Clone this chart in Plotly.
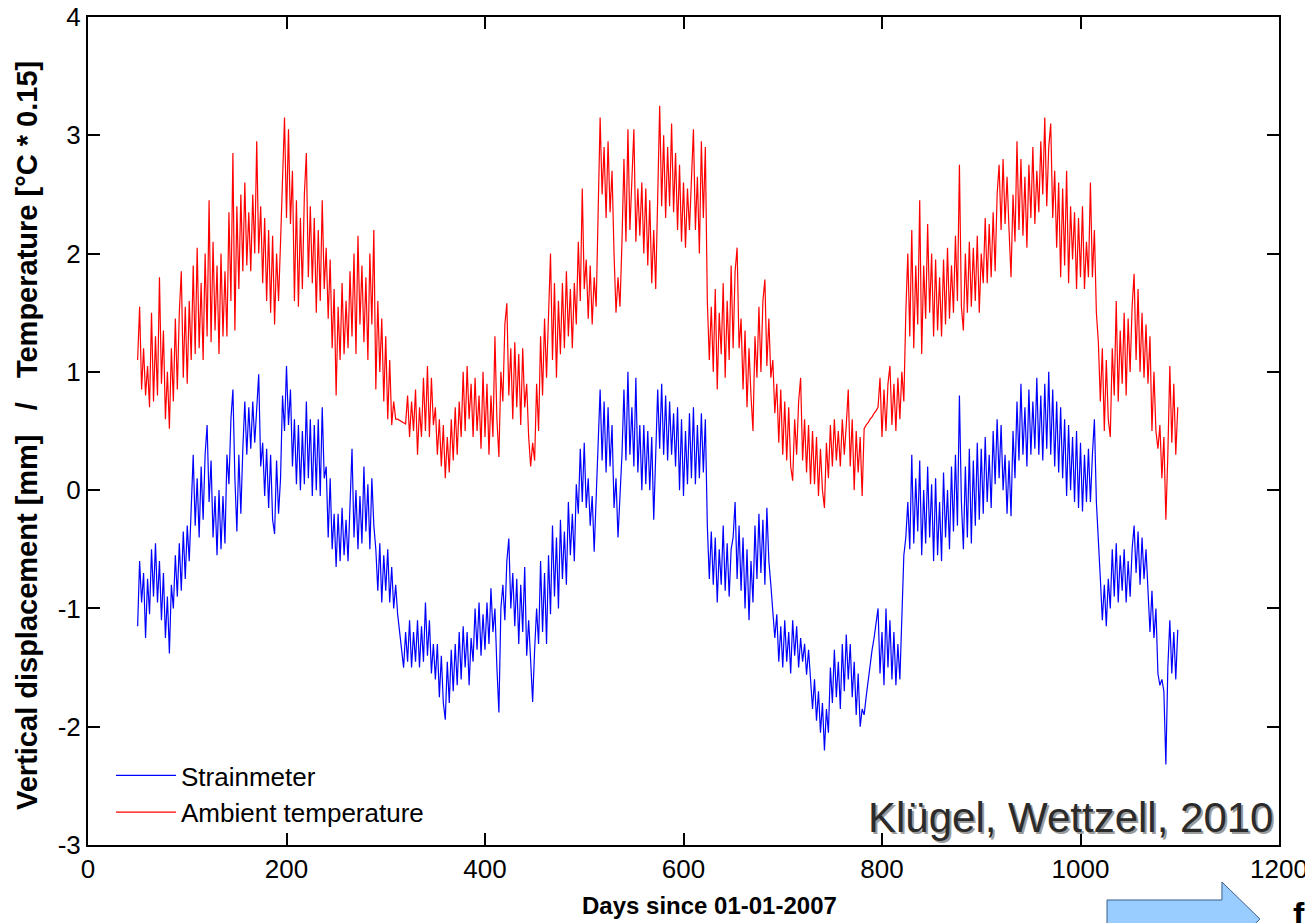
import plotly.graph_objects as go

# Sampling: every 2 days from day 50 to day 1098
days = list(range(50, 1099, 2))

temperature = [
    # 50-88
    1.1, 1.55, 0.85, 1.2, 0.8, 1.05, 0.7, 1.5, 0.75, 1.3, 0.8, 1.8, 0.9, 1.35, 0.6, 1.0, 0.52, 1.2, 0.75, 1.45,
    # 90-128
    0.85, 1.5, 1.85, 0.95, 1.55, 0.9, 1.6, 1.1, 1.9, 1.15, 2.05, 1.2, 1.75, 1.1, 2.0, 1.3, 2.45, 1.25, 2.1, 1.35,
    # 130-168
    1.9, 1.15, 2.0, 1.3, 1.85, 1.3, 2.35, 1.6, 2.85, 1.35, 2.4, 1.7, 2.5, 1.85, 2.6, 1.9, 2.35, 1.85, 2.5, 2.0,
    # 170-208
    2.95, 2.0, 2.4, 1.75, 2.3, 1.6, 2.2, 1.5, 2.15, 1.4, 2.0, 1.6, 2.1, 2.6, 3.15, 2.3, 3.05, 2.25, 2.7, 1.6,
    # 210-248
    2.45, 1.55, 2.3, 1.7, 2.5, 2.85, 1.8, 2.4, 1.75, 2.3, 1.5, 2.2, 1.6, 2.45, 1.7, 2.05, 1.45, 1.95, 1.2, 1.7,
    # 250-288
    0.8, 1.55, 1.1, 1.75, 1.15, 1.6, 1.2, 1.85, 1.3, 2.0, 1.15, 2.15, 1.4, 1.9, 1.25, 1.8, 1.1, 2.0, 1.4, 2.2,
    # 290-328
    0.85, 1.6, 1.0, 1.45, 0.75, 1.3, 0.6, 1.1, 0.55, 0.75, 0.6, 0.6, 0.59, 0.58, 0.57, 0.56, 0.8, 0.45, 0.75, 0.5,
    # 330-368
    0.85, 0.3, 0.7, 0.45, 0.95, 0.5, 1.05, 0.45, 0.95, 0.55, 0.7, 0.3, 0.6, 0.2, 0.55, 0.1, 0.45, 0.15, 0.6, 0.25,
    # 370-408
    0.7, 0.3, 0.75, 0.45, 1.0, 0.5, 1.05, 0.6, 0.9, 0.45, 0.95, 0.5, 0.8, 0.35, 1.0, 0.45, 0.9, 0.3, 0.8, 0.45,
    # 410-448
    1.3, 0.6, 0.28, 1.0, 0.75, 1.4, 1.58, 0.8, 1.2, 0.6, 1.25, 0.7, 1.15, 0.55, 1.2, 0.7, 0.9, 0.45, 0.2, 0.4,
    # 450-488
    0.25, 0.9, 0.5, 1.3, 0.8, 1.45, 0.95, 1.5, 2.0, 1.1, 1.75, 0.95, 1.6, 1.15, 1.75, 1.2, 1.85, 1.3, 1.7, 1.2,
    # 490-528
    1.75, 1.4, 2.1, 1.6, 2.55, 1.7, 1.95, 1.45, 1.9, 1.4, 1.8, 1.55, 2.35, 3.15, 2.5, 2.9, 2.3, 2.95, 2.35, 2.7,
    # 530-568
    2.0, 1.5, 1.8, 1.55, 2.1, 2.8, 2.1, 3.05, 2.2, 2.6, 3.05, 2.1, 2.55, 2.15, 2.6, 2.0, 2.55, 1.9, 2.45, 1.75,
    # 570-608
    2.2, 1.7, 2.5, 3.25, 2.4, 3.0, 2.3, 2.9, 2.4, 3.1, 2.35, 2.85, 2.2, 2.75, 2.1, 2.6, 2.05, 2.55, 2.2, 2.7,
    # 610-648
    3.05, 2.2, 2.65, 2.0, 2.95, 2.3, 2.9, 1.6, 1.1, 1.55, 1.0, 1.7, 0.85, 1.5, 1.15, 1.75, 0.95, 1.6, 1.1, 1.9,
    # 650-688
    1.2, 1.85, 2.05, 1.2, 1.45, 0.85, 1.35, 0.7, 1.2, 0.8, 0.5, 1.3, 0.95, 1.55, 1.0, 1.6, 1.78, 1.05, 1.45, 0.95,
    # 690-728
    1.1, 0.65, 0.9, 0.4, 0.85, 0.3, 0.75, 0.25, 0.7, 0.2, 0.08, 0.6, 0.3, 0.75, 0.95, 0.25, 0.6, 0.15, 0.55, 0.05,
    # 730-768
    0.5, 0.05, 0.45, -0.05, 0.35, 0.0, -0.15, 0.4, 0.1, 0.55, 0.2, 0.6, 0.25, 0.5, 0.2, 0.6, 0.3, 0.55, 0.85, 0.2,
    # 770-808
    0.6, 0.0, 0.5, 0.15, 0.45, -0.05, 0.52, 0.55, 0.57, 0.6, 0.62, 0.65, 0.67, 0.7, 0.95, 0.45, 0.85, 0.5, 0.9, 1.05,
    # 810-848
    0.55, 0.9, 0.5, 0.95, 0.6, 1.0, 0.75, 1.5, 2.0, 1.3, 2.2, 1.2, 1.9, 1.4, 2.45, 1.15, 1.9, 1.45, 2.25, 1.5,
    # 850-888
    2.0, 1.3, 1.95, 1.35, 1.8, 1.3, 1.95, 1.4, 2.05, 1.45, 1.9, 1.5, 2.15, 1.6, 2.75, 1.55, 1.35, 2.0, 1.5, 2.1,
    # 890-928
    1.55, 2.05, 1.6, 2.15, 1.5, 2.0, 1.75, 2.3, 1.75, 2.25, 1.8, 2.35, 1.85, 2.5, 2.75, 2.2, 2.8, 2.25, 2.65, 2.2,
    # 930-968
    1.8, 2.5, 2.1, 2.95, 2.2, 2.8, 2.15, 2.65, 2.05, 2.75, 2.3, 2.9, 2.25, 2.7, 2.35, 2.95, 2.5, 3.15, 2.4, 2.9,
    # 970-1008
    3.1, 2.3, 2.7, 2.05, 2.6, 1.8, 2.55, 1.9, 2.7, 1.75, 2.4, 1.95, 2.35, 1.7, 2.3, 1.8, 2.4, 1.7, 2.1, 1.8,
    # 1010-1048
    2.6, 1.8, 2.2, 1.5, 1.25, 0.75, 1.2, 0.5, 1.1, 0.6, 0.45, 1.2, 0.8, 1.6, 0.75, 1.35, 0.9, 1.5, 0.8, 1.45,
    # 1050-1088
    1.0, 1.55, 1.83, 1.1, 1.7, 1.0, 1.5, 0.95, 1.4, 0.9, 1.3, 0.5, 1.0, 0.5, 0.35, 0.55, 0.1, 0.45, -0.25, 0.3,
    # 1090-1098
    1.05, 0.4, 0.9, 0.3, 0.7,
]

strainmeter = [
    # 50-88
    -1.15, -0.6, -0.95, -0.7, -1.25, -0.75, -1.05, -0.5, -0.9, -0.45, -0.95, -0.6, -1.1, -0.7, -1.25, -0.9, -1.38, -0.8, -1.0, -0.55,
    # 90-128
    -0.9, -0.45, -0.85, -0.35, -0.75, -0.3, -0.6, -0.1, 0.3, -0.3, 0.1, -0.4, 0.2, -0.25, 0.3, 0.55, -0.1, 0.25, -0.4, -0.05,
    # 130-168
    -0.55, 0.0, -0.5, -0.05, -0.45, 0.3, 0.05, 0.6, 0.85, 0.1, -0.35, 0.3, -0.2, 0.35, 0.75, 0.3, 0.7, 0.35, 0.75, 0.4,
    # 170-208
    0.7, 0.98, 0.2, 0.4, -0.05, 0.35, -0.15, 0.3, -0.25, -0.37, 0.25, -0.2, 0.1, 0.8, 0.5, 1.05, 0.55, 0.85, 0.2, 0.6,
    # 210-248
    0.05, 0.55, 0.0, 0.5, 0.05, 0.75, 0.1, 0.6, -0.05, 0.55, 0.0, 0.6, -0.05, 0.7, 0.1, 0.2, -0.4, 0.1, -0.5, -0.2,
    # 250-288
    -0.65, -0.2, -0.6, -0.15, -0.55, -0.25, -0.6, -0.1, 0.35, -0.4, 0.0, -0.5, -0.05, -0.45, 0.2, -0.35, 0.05, -0.5, 0.1, -0.3,
    # 290-328
    -0.5, -0.85, -0.45, -0.95, -0.55, -0.85, -0.5, -0.95, -0.65, -1.0, -0.8, -1.05, -1.2, -1.35, -1.5, -1.2, -1.45, -1.1, -1.5, -1.2,
    # 330-368
    -1.45, -1.1, -1.5, -1.15, -1.45, -0.95, -1.4, -1.1, -1.55, -1.3, -1.6, -1.3, -1.75, -1.4, -1.8, -1.94, -1.45, -1.8, -1.35, -1.7,
    # 370-408
    -1.3, -1.65, -1.2, -1.6, -1.15, -1.5, -1.2, -1.65, -1.25, -1.45, -1.0, -1.35, -0.95, -1.4, -1.05, -1.35, -0.95, -1.3, -0.83, -1.2,
    # 410-448
    -1.0, -1.5, -1.88, -1.0, -0.8, -1.1, -0.6, -0.41, -1.0, -0.7, -1.15, -0.75, -1.3, -0.8, -1.2, -0.65, -1.4, -1.1, -1.5, -1.79,
    # 450-488
    -1.35, -1.0, -1.3, -0.6, -1.2, -0.7, -1.3, -0.55, -1.05, -0.3, -0.9, -0.4, -1.0, -0.25, -0.75, -0.35, -0.8, -0.1, -0.55, -0.2,
    # 490-528
    -0.6, 0.05, -0.2, 0.35, -0.1, 0.4, -0.15, 0.1, -0.3, -0.05, -0.52, -0.1, 0.3, 0.85, 0.25, 0.75, 0.15, 0.7, 0.2, 0.55,
    # 530-568
    -0.15, 0.1, -0.4, -0.05, 0.3, 0.85, 0.25, 1.0, 0.3, 0.7, 0.2, 0.95, 0.15, 0.55, 0.0, 0.55, 0.05, 0.5, 0.0, 0.45,
    # 570-608
    -0.25, 0.3, 0.85, 0.35, 0.9, 0.3, 0.8, 0.25, 0.75, 0.3, 0.65, 0.2, 0.7, 0.0, 0.6, -0.05, 0.5, 0.05, 0.65, 0.1,
    # 610-648
    0.7, 0.05, 0.55, 0.1, 0.65, 0.15, 0.6, -0.3, -0.75, -0.35, -0.8, -0.4, -0.95, -0.5, -0.8, -0.3, -0.85, -0.45, -0.9, -0.5,
    # 650-688
    -0.4, -0.1, -0.75, -0.3, -0.85, -0.4, -1.0, -0.5, -1.1, -0.6, -0.95, -0.3, -0.75, -0.2, -0.7, -0.25, -0.8, -0.15, -0.6, -0.8,
    # 690-728
    -1.0, -1.25, -1.05, -1.45, -1.15, -1.5, -1.1, -1.45, -1.2, -1.55, -1.1, -1.4, -1.15, -1.5, -1.25, -1.45, -1.3, -1.56, -1.35, -1.6,
    # 730-768
    -1.85, -1.6, -1.95, -1.7, -2.05, -1.8, -2.2, -1.85, -2.05, -1.5, -1.8, -1.35, -1.75, -1.45, -1.85, -1.3, -1.7, -1.22, -1.6, -1.3,
    # 770-808
    -1.75, -1.45, -1.9, -1.55, -2.0, -1.85, -1.9, -1.75, -1.6, -1.5, -1.35, -1.25, -1.1, -1.0, -1.55, -1.2, -1.65, -1.0, -1.5, -1.1,
    # 810-848
    -1.6, -1.2, -1.65, -1.3, -1.6, -1.0, -0.55, -0.4, -0.1, -0.5, 0.3, -0.45, 0.1, -0.35, 0.25, -0.55, 0.0, -0.45, 0.2, -0.4,
    # 850-888
    0.05, -0.6, 0.1, -0.55, -0.1, -0.6, 0.15, -0.4, 0.0, -0.5, 0.2, -0.35, 0.3, -0.3, 0.8, -0.1, -0.5, 0.2, -0.4, 0.35,
    # 890-928
    -0.45, 0.25, -0.3, 0.4, -0.25, 0.35, -0.2, 0.45, -0.1, 0.3, -0.15, 0.5, 0.05, 0.6, 0.1, 0.55, 0.0, 0.3, -0.2, 0.25,
    # 930-968
    -0.22, 0.5, 0.1, 0.75, 0.25, 0.9, 0.3, 0.7, 0.2, 0.85, 0.3, 0.75, 0.35, 0.95, 0.3, 0.8, 0.25, 0.9, 0.35, 1.0,
    # 970-1008
    0.3, 0.85, 0.2, 0.75, 0.15, 0.7, 0.1, 0.6, -0.05, 0.55, 0.0, 0.45, -0.1, 0.5, -0.15, 0.4, -0.18, 0.3, -0.1, 0.35,
    # 1010-1048
    -0.1, 0.3, 0.6, -0.1, -0.5, -0.75, -1.1, -0.8, -1.15, -0.75, -1.0, -0.5, -0.9, -0.45, -0.95, -0.55, -0.85, -0.5, -0.95, -0.6,
    # 1050-1088
    -0.9, -0.5, -0.3, -0.7, -0.35, -0.8, -0.4, -0.75, -0.5, -0.9, -1.2, -0.85, -1.25, -1.0, -1.55, -1.65, -1.6, -1.7, -2.32, -1.5,
    # 1090-1098
    -1.1, -1.55, -1.2, -1.6, -1.18,
]

series_names = ["Strainmeter", "Ambient temperature"]
x_ticks = [0, 200, 400, 600, 800, 1000, 1200]
y_ticks = [-3, -2, -1, 0, 1, 2, 3, 4]
y_tick_text = ["-3", "-2", "-1", "0", "1", "2", "3", "4"]

FONT = "Arial, Liberation Sans, sans-serif"

fig = go.Figure()
fig.add_trace(go.Scatter(x=days, y=strainmeter, mode="lines", name=series_names[0],
                         line=dict(color="#0000ff", width=1.2)))
fig.add_trace(go.Scatter(x=days, y=temperature, mode="lines", name=series_names[1],
                         line=dict(color="#ff0000", width=1.2)))

axis_common = dict(showline=True, linecolor="black", linewidth=2, mirror="ticks",
                   ticks="inside", ticklen=12, tickwidth=2, tickcolor="black",
                   showgrid=False, zeroline=False, automargin=False,
                   ticklabeloverflow="allow",
                   tickfont=dict(family=FONT, size=26, color="black"))

fig.update_xaxes(range=[0, 1200], tickvals=x_ticks, **axis_common)
fig.update_yaxes(range=[-3, 4], tickvals=y_ticks, ticktext=y_tick_text, **axis_common)

# The page body has an 8px margin, so the figure is 8px smaller than the window
# and every page pixel = figure pixel + 8.  Plot area: x 88..1279, y 17..845 (page).
def px(xp):
    return (xp - 88) / 1191

def py(yp):
    return (845 - yp) / 828

NB = "&nbsp;"
fig.update_layout(
    width=1305, height=915,
    margin=dict(l=80, r=34, t=9, b=78),
    paper_bgcolor="white", plot_bgcolor="white",
    font=dict(family=FONT, color="black"),
    showlegend=True,
    legend=dict(x=px(111), y=py(752), xanchor="left", yanchor="top",
                bgcolor="rgba(0,0,0,0)", borderwidth=0, itemwidth=60,
                font=dict(family=FONT, size=26, color="black"), tracegroupgap=0),
    annotations=[
        dict(text="<b>Days since 01-01-2007</b>", xref="paper", yref="paper",
             x=px(709), y=py(905), xanchor="center", yanchor="middle", showarrow=False,
             font=dict(family=FONT, size=24, color="black")),
        dict(text="<b>Vertical displacement [mm]" + NB * 3 + "/" + NB * 3 + "Temperature [°C * 0.15]</b>",
             xref="paper", yref="paper", textangle=-90,
             x=px(27), y=py(436), xanchor="center", yanchor="middle", showarrow=False,
             font=dict(family=FONT, size=29, color="black")),
        dict(text="Klügel, Wettzell, 2010", xref="paper", yref="paper",
             x=px(1277), y=py(819), xanchor="right", yanchor="middle", showarrow=False,
             font=dict(family=FONT, size=42, color="#9a9a9a")),
        dict(text="Klügel, Wettzell, 2010", xref="paper", yref="paper",
             x=px(1275), y=py(817), xanchor="right", yanchor="middle", showarrow=False,
             font=dict(family=FONT, size=42, color="#2b2b2b")),
        dict(text="<b>f</b>", xref="paper", yref="paper",
             x=px(1291), y=py(893), xanchor="left", yanchor="top",
             showarrow=False, font=dict(family=FONT, size=34, color="black")),
    ],
)

arrow_path = ("M {:.4f} {:.4f} L {:.4f} {:.4f} L {:.4f} {:.4f} L {:.4f} {:.4f} "
              "L {:.4f} {:.4f} L {:.4f} {:.4f} L {:.4f} {:.4f} Z").format(
    px(1107), py(940), px(1107), py(900), px(1222), py(900), px(1222), py(882),
    px(1260), py(919), px(1222), py(956), px(1222), py(940))
fig.add_shape(type="path", path=arrow_path, xref="paper", yref="paper",
              fillcolor="#99ccff", line=dict(color="#3a5f8a", width=1), layer="above")

fig.write_html("out.html")
